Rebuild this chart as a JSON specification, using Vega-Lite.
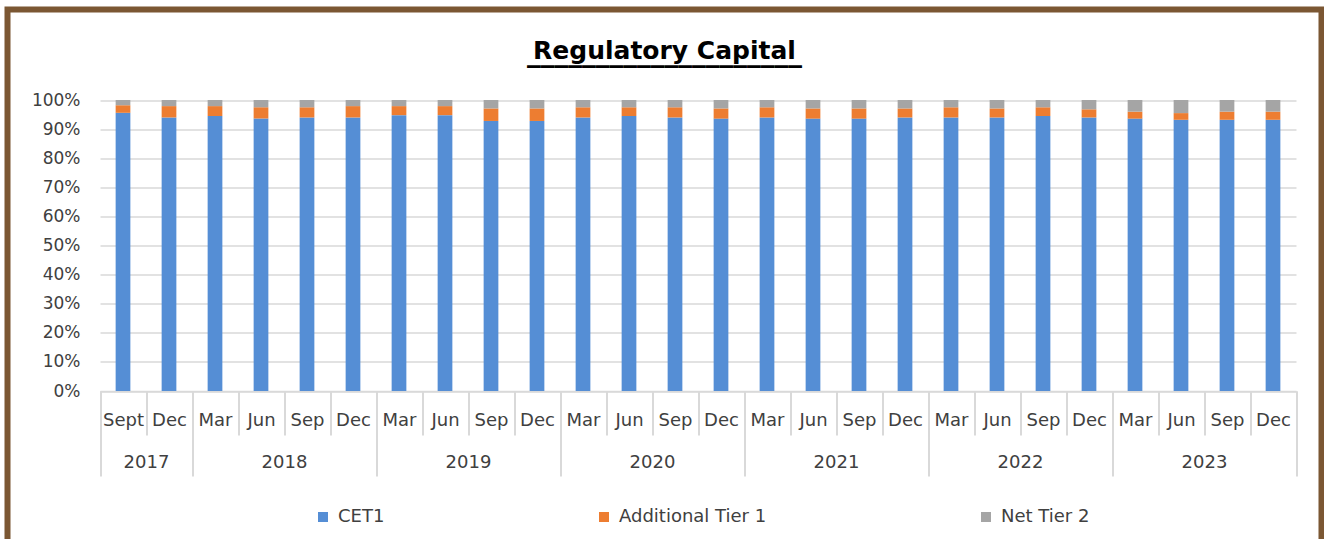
{
  "$schema": "https://vega.github.io/schema/vega-lite/v6.json",
  "width": 1314,
  "height": 529.5,
  "autosize": {"type": "none"},
  "padding": {"left": 7.5, "top": 9.5, "right": 2.5, "bottom": 0},
  "background": "#ffffff",
  "title": {
    "text": "Regulatory Capital",
    "subtitle": "____________________",
    "font": "DejaVu Sans",
    "fontSize": 25,
    "fontWeight": "bold",
    "color": "#000000",
    "subtitleFont": "DejaVu Sans",
    "subtitleFontSize": 27.5,
    "subtitleFontWeight": "bold",
    "subtitleColor": "#000000",
    "subtitlePadding": -25,
    "offset": -57,
    "anchor": "middle",
    "frame": "bounds"
  },
  "data": {
    "values": [
      {"period": "2017 Sept", "component": "CET1", "rank": 1, "share": 95.6},
      {"period": "2017 Sept", "component": "Additional Tier 1", "rank": 2, "share": 2.6},
      {"period": "2017 Sept", "component": "Net Tier 2", "rank": 3, "share": 1.8},
      {"period": "2017 Dec", "component": "CET1", "rank": 1, "share": 94.0},
      {"period": "2017 Dec", "component": "Additional Tier 1", "rank": 2, "share": 3.9},
      {"period": "2017 Dec", "component": "Net Tier 2", "rank": 3, "share": 2.1},
      {"period": "2018 Mar", "component": "CET1", "rank": 1, "share": 94.5},
      {"period": "2018 Mar", "component": "Additional Tier 1", "rank": 2, "share": 3.4},
      {"period": "2018 Mar", "component": "Net Tier 2", "rank": 3, "share": 2.1},
      {"period": "2018 Jun", "component": "CET1", "rank": 1, "share": 93.6},
      {"period": "2018 Jun", "component": "Additional Tier 1", "rank": 2, "share": 3.9},
      {"period": "2018 Jun", "component": "Net Tier 2", "rank": 3, "share": 2.5},
      {"period": "2018 Sep", "component": "CET1", "rank": 1, "share": 94.0},
      {"period": "2018 Sep", "component": "Additional Tier 1", "rank": 2, "share": 3.5},
      {"period": "2018 Sep", "component": "Net Tier 2", "rank": 3, "share": 2.5},
      {"period": "2018 Dec", "component": "CET1", "rank": 1, "share": 94.0},
      {"period": "2018 Dec", "component": "Additional Tier 1", "rank": 2, "share": 3.9},
      {"period": "2018 Dec", "component": "Net Tier 2", "rank": 3, "share": 2.1},
      {"period": "2019 Mar", "component": "CET1", "rank": 1, "share": 94.8},
      {"period": "2019 Mar", "component": "Additional Tier 1", "rank": 2, "share": 3.1},
      {"period": "2019 Mar", "component": "Net Tier 2", "rank": 3, "share": 2.1},
      {"period": "2019 Jun", "component": "CET1", "rank": 1, "share": 94.8},
      {"period": "2019 Jun", "component": "Additional Tier 1", "rank": 2, "share": 3.1},
      {"period": "2019 Jun", "component": "Net Tier 2", "rank": 3, "share": 2.1},
      {"period": "2019 Sep", "component": "CET1", "rank": 1, "share": 92.8},
      {"period": "2019 Sep", "component": "Additional Tier 1", "rank": 2, "share": 4.3},
      {"period": "2019 Sep", "component": "Net Tier 2", "rank": 3, "share": 2.9},
      {"period": "2019 Dec", "component": "CET1", "rank": 1, "share": 92.8},
      {"period": "2019 Dec", "component": "Additional Tier 1", "rank": 2, "share": 4.3},
      {"period": "2019 Dec", "component": "Net Tier 2", "rank": 3, "share": 2.9},
      {"period": "2020 Mar", "component": "CET1", "rank": 1, "share": 94.0},
      {"period": "2020 Mar", "component": "Additional Tier 1", "rank": 2, "share": 3.5},
      {"period": "2020 Mar", "component": "Net Tier 2", "rank": 3, "share": 2.5},
      {"period": "2020 Jun", "component": "CET1", "rank": 1, "share": 94.5},
      {"period": "2020 Jun", "component": "Additional Tier 1", "rank": 2, "share": 3.0},
      {"period": "2020 Jun", "component": "Net Tier 2", "rank": 3, "share": 2.5},
      {"period": "2020 Sep", "component": "CET1", "rank": 1, "share": 94.0},
      {"period": "2020 Sep", "component": "Additional Tier 1", "rank": 2, "share": 3.5},
      {"period": "2020 Sep", "component": "Net Tier 2", "rank": 3, "share": 2.5},
      {"period": "2020 Dec", "component": "CET1", "rank": 1, "share": 93.6},
      {"period": "2020 Dec", "component": "Additional Tier 1", "rank": 2, "share": 3.5},
      {"period": "2020 Dec", "component": "Net Tier 2", "rank": 3, "share": 2.9},
      {"period": "2021 Mar", "component": "CET1", "rank": 1, "share": 94.0},
      {"period": "2021 Mar", "component": "Additional Tier 1", "rank": 2, "share": 3.5},
      {"period": "2021 Mar", "component": "Net Tier 2", "rank": 3, "share": 2.5},
      {"period": "2021 Jun", "component": "CET1", "rank": 1, "share": 93.6},
      {"period": "2021 Jun", "component": "Additional Tier 1", "rank": 2, "share": 3.5},
      {"period": "2021 Jun", "component": "Net Tier 2", "rank": 3, "share": 2.9},
      {"period": "2021 Sep", "component": "CET1", "rank": 1, "share": 93.6},
      {"period": "2021 Sep", "component": "Additional Tier 1", "rank": 2, "share": 3.5},
      {"period": "2021 Sep", "component": "Net Tier 2", "rank": 3, "share": 2.9},
      {"period": "2021 Dec", "component": "CET1", "rank": 1, "share": 94.0},
      {"period": "2021 Dec", "component": "Additional Tier 1", "rank": 2, "share": 3.1},
      {"period": "2021 Dec", "component": "Net Tier 2", "rank": 3, "share": 2.9},
      {"period": "2022 Mar", "component": "CET1", "rank": 1, "share": 94.0},
      {"period": "2022 Mar", "component": "Additional Tier 1", "rank": 2, "share": 3.5},
      {"period": "2022 Mar", "component": "Net Tier 2", "rank": 3, "share": 2.5},
      {"period": "2022 Jun", "component": "CET1", "rank": 1, "share": 94.0},
      {"period": "2022 Jun", "component": "Additional Tier 1", "rank": 2, "share": 3.1},
      {"period": "2022 Jun", "component": "Net Tier 2", "rank": 3, "share": 2.9},
      {"period": "2022 Sep", "component": "CET1", "rank": 1, "share": 94.5},
      {"period": "2022 Sep", "component": "Additional Tier 1", "rank": 2, "share": 3.0},
      {"period": "2022 Sep", "component": "Net Tier 2", "rank": 3, "share": 2.5},
      {"period": "2022 Dec", "component": "CET1", "rank": 1, "share": 94.0},
      {"period": "2022 Dec", "component": "Additional Tier 1", "rank": 2, "share": 2.8},
      {"period": "2022 Dec", "component": "Net Tier 2", "rank": 3, "share": 3.2},
      {"period": "2023 Mar", "component": "CET1", "rank": 1, "share": 93.6},
      {"period": "2023 Mar", "component": "Additional Tier 1", "rank": 2, "share": 2.4},
      {"period": "2023 Mar", "component": "Net Tier 2", "rank": 3, "share": 4.0},
      {"period": "2023 Jun", "component": "CET1", "rank": 1, "share": 93.2},
      {"period": "2023 Jun", "component": "Additional Tier 1", "rank": 2, "share": 2.3},
      {"period": "2023 Jun", "component": "Net Tier 2", "rank": 3, "share": 4.5},
      {"period": "2023 Sep", "component": "CET1", "rank": 1, "share": 93.2},
      {"period": "2023 Sep", "component": "Additional Tier 1", "rank": 2, "share": 2.8},
      {"period": "2023 Sep", "component": "Net Tier 2", "rank": 3, "share": 4.0},
      {"period": "2023 Dec", "component": "CET1", "rank": 1, "share": 93.2},
      {"period": "2023 Dec", "component": "Additional Tier 1", "rank": 2, "share": 2.8},
      {"period": "2023 Dec", "component": "Net Tier 2", "rank": 3, "share": 4.0}
    ]
  },
  "layer": [
    {
      "mark": {"type": "bar", "width": {"band": 0.32}},
      "encoding": {
        "x": {
          "field": "period",
          "type": "ordinal",
          "sort": null,
          "scale": {"paddingInner": 0, "paddingOuter": 0, "range": [92.5, 1288.5]},
          "axis": {
            "orient": "bottom",
            "offset": -148,
            "title": null,
            "grid": false,
            "domain": true,
            "domainColor": "#d9d9d9",
            "domainWidth": 1.5,
            "ticks": true,
            "tickBand": "extent",
            "tickSize": 44,
            "tickColor": "#d9d9d9",
            "tickWidth": 2,
            "labelExpr": "split(datum.value, ' ')[1]",
            "labelAngle": 0,
            "labelFont": "DejaVu Sans",
            "labelFontSize": 18,
            "labelColor": "#404040",
            "labelBaseline": "middle",
            "labelPadding": -15,
            "labelOverlap": false,
            "labelBound": false,
            "labelFlush": false
          }
        },
        "y": {
          "field": "share",
          "type": "quantitative",
          "stack": "normalize",
          "scale": {"domain": [0, 1], "nice": false, "range": [381.5, 90.5]},
          "axis": {
            "title": null,
            "offset": -92.5,
            "values": [0, 0.1, 0.2, 0.3, 0.4, 0.5, 0.6, 0.7, 0.8, 0.9, 1],
            "format": ".0%",
            "grid": true,
            "gridColor": "#d9d9d9",
            "gridWidth": 1.5,
            "domain": false,
            "ticks": false,
            "labelPadding": 20,
            "labelFont": "DejaVu Sans",
            "labelFontSize": 17,
            "labelColor": "#404040"
          }
        },
        "color": {
          "field": "component",
          "type": "nominal",
          "scale": {
            "domain": ["CET1", "Additional Tier 1", "Net Tier 2"],
            "range": ["#558ed5", "#ed7d31", "#a5a5a5"]
          },
          "legend": {
            "title": null,
            "orient": "none",
            "direction": "horizontal",
            "legendX": 306.5,
            "legendY": 498.5,
            "columnPadding": 210,
            "symbolType": "square",
            "symbolSize": 100,
            "symbolStrokeWidth": 0,
            "symbolOpacity": 1,
            "labelOffset": 6,
            "labelFont": "DejaVu Sans",
            "labelFontSize": 18,
            "labelColor": "#404040"
          }
        },
        "order": {"field": "rank", "type": "quantitative", "sort": "ascending"}
      }
    },
    {
      "mark": {"type": "rule", "opacity": 0},
      "encoding": {
        "x": {
          "field": "period",
          "type": "ordinal",
          "sort": null,
          "axis": {
            "orient": "bottom",
            "offset": -148,
            "title": null,
            "grid": false,
            "domain": false,
            "ticks": true,
            "tickBand": "extent",
            "tickSize": 85,
            "tickColor": "#d9d9d9",
            "tickWidth": 2,
            "tickOpacity": {"condition": {"test": "datum.extra || indexof(datum.value, 'Dec') >= 0", "value": 1}, "value": 0},
            "labelExpr": "indexof(['2017 Sept','2018 Jun','2019 Jun','2020 Jun','2021 Jun','2022 Jun','2023 Jun'], datum.value) >= 0 ? split(datum.value, ' ')[0] : ''",
            "labelOffset": 23,
            "labelAngle": 0,
            "labelFont": "DejaVu Sans",
            "labelFontSize": 18,
            "labelColor": "#404040",
            "labelBaseline": "middle",
            "labelPadding": -14,
            "labelOverlap": false,
            "labelBound": false,
            "labelFlush": false
          }
        }
      }
    }
  ],
  "resolve": {"axis": {"x": "independent"}},
  "config": {
    "view": {
      "stroke": "#7b5733",
      "strokeWidth": 6,
      "strokeCap": "square",
      "strokeDash": [1843.5, 1314, 529.5, 0],
      "fill": "#ffffff"
    }
  }
}
